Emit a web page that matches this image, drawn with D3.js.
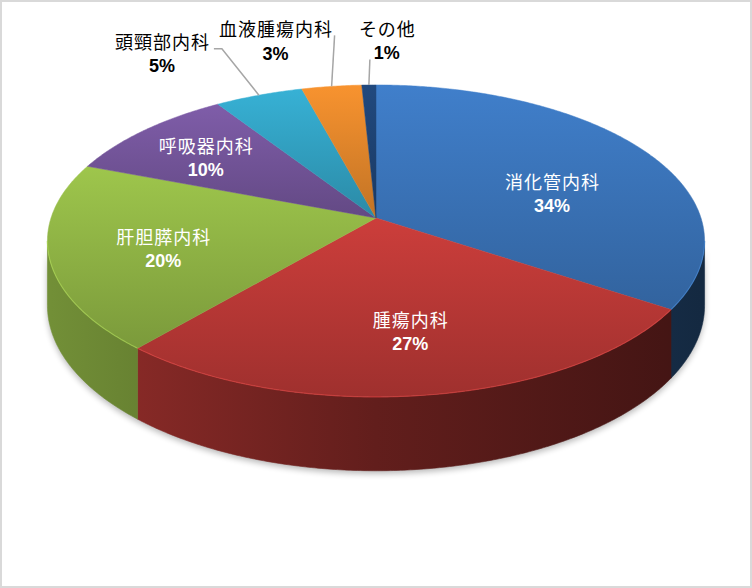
<!DOCTYPE html>
<html><head><meta charset="utf-8">
<script src="https://cdn.jsdelivr.net/npm/d3@7"></script>
<style>html,body{margin:0;padding:0;background:#fff}svg{display:block}</style>
</head><body>
<svg id="chart" width="752" height="588"></svg>
<script>
// ---- data ----
const categories = ["消化管内科","腫瘍内科","肝胆膵内科","呼吸器内科","頭頸部内科","血液腫瘍内科","その他"];
const values = [34.3, 27.0, 19.5, 10.0, 5.0, 3.4, 0.8];
const percentLabels = ["34%","27%","20%","10%","5%","3%","1%"];
const colors = ["#407fcb","#cc3e3b","#9ec64c","#7f5da9","#37b1d5","#f8932f","#21497e"];
const outsideLabel = [false,false,false,false,true,true,true];

// ---- layout ----
const W = 752, H = 588;
const cx = 376, cy = 218, A = 325, B = 152.6, K = 0.147, DEPTH = 63;
const svg = d3.select("#chart");

function proj(theta, r = 1, z = 0) {
  const u = Math.sin(theta) * r, v = -Math.cos(theta) * r;
  const w = 1 - K * v;
  return [cx + A * u / w, cy + B * v / w + z * DEPTH / (1 - K * (-Math.cos(theta)))];
}
function arcPts(a0, a1, z) {
  const n = Math.max(2, Math.ceil(Math.abs(a1 - a0) / (Math.PI / 360)));
  return d3.range(n + 1).map(i => proj(a0 + (a1 - a0) * i / n, 1, z));
}
const line = d3.line();

const pie = d3.pie().sort(null).value(d => d);
const arcs = pie(values);

const defs = svg.append("defs");
const scale = (c, f) => { const r = d3.rgb(c); return d3.rgb(r.r * f, r.g * f, r.b * f).formatHex(); };

arcs.forEach((a, i) => {
  const tg = defs.append("linearGradient").attr("id", "top" + i).attr("x1", 0).attr("y1", 0).attr("x2", 0).attr("y2", 1);
  tg.append("stop").attr("offset", 0).attr("stop-color", colors[i]);
  tg.append("stop").attr("offset", 1).attr("stop-color", scale(colors[i], 0.78));
  const wg = defs.append("linearGradient").attr("id", "wall" + i).attr("gradientUnits", "userSpaceOnUse")
    .attr("x1", cx - A).attr("y1", 0).attr("x2", cx + A).attr("y2", 0);
  wg.append("stop").attr("offset", 0).attr("stop-color", scale(colors[i], 0.72));
  wg.append("stop").attr("offset", 0.5).attr("stop-color", scale(colors[i], 0.48));
  wg.append("stop").attr("offset", 1).attr("stop-color", scale(colors[i], 0.32));
});
const blur = defs.append("filter").attr("id", "shadow").attr("x", "-10%").attr("y", "-10%").attr("width", "120%").attr("height", "130%");
blur.append("feGaussianBlur").attr("stdDeviation", 3);

// border
svg.append("rect").attr("x", 1).attr("y", 1).attr("width", W - 2).attr("height", H - 2)
  .attr("fill", "#fff").attr("stroke", "#d9d9d9").attr("stroke-width", 2);

// shadow under the pie
const ts = Math.acos(-K);
const shadowPts = arcPts(ts, 2 * Math.PI - ts, 1).map(p => [p[0], p[1] + 3])
  .concat(arcPts(2 * Math.PI - ts, ts, 0).map(p => [p[0], p[1] + 3]));
svg.append("path").attr("d", line(shadowPts) + "Z").attr("fill", "#000").attr("opacity", 0.28).attr("filter", "url(#shadow)");

// walls
const g = svg.append("g");
arcs.forEach((a, i) => {
  const a0 = Math.max(a.startAngle, ts), a1 = Math.min(a.endAngle, 2 * Math.PI - ts);
  if (a1 <= a0) return;
  const pts = arcPts(a0, a1, 0).concat(arcPts(a1, a0, 1));
  g.append("path").attr("d", line(pts) + "Z").attr("fill", `url(#wall${i})`)
    .attr("stroke", `url(#wall${i})`).attr("stroke-width", 0.6);
});
// top faces
arcs.forEach((a, i) => {
  const pts = [[cx, cy]].concat(arcPts(a.startAngle, a.endAngle, 0));
  g.append("path").attr("d", line(pts) + "Z").attr("fill", `url(#top${i})`)
    .attr("stroke", `url(#top${i})`).attr("stroke-width", 0.5).attr("stroke-linejoin", "round");
});
// rim highlight on the front edge
arcs.forEach((a, i) => {
  const a0 = Math.max(a.startAngle, ts), a1 = Math.min(a.endAngle, 2 * Math.PI - ts);
  if (a1 <= a0) return;
  g.append("path").attr("d", line(arcPts(a0, a1, 0))).attr("fill", "none")
    .attr("stroke", d3.rgb(colors[i]).brighter(0.5)).attr("stroke-width", 1.2).attr("opacity", 0.45);
});

// labels
const insideNudge = [[-2, 21], [2, 5], [-3, 6], [-15, -1]];
const outsideOffset = { 4: [-97, -41], 5: [-56, -45], 6: [18, -44] };
const leaderStart = { 4: [[52, -5.5], [60, -5.5]], 5: [[59, -6]], 6: [[-17, 18.5]] };
const GAP = 11.7;
arcs.forEach((a, i) => {
  const m = (a.startAngle + a.endAngle) / 2;
  let x, y, fill;
  if (!outsideLabel[i]) {
    const p = proj(m, 0.65);
    x = p[0] + insideNudge[i][0]; y = p[1] + insideNudge[i][1]; fill = "#fff";
  } else {
    const e = proj(m, 1);
    x = e[0] + outsideOffset[i][0]; y = e[1] + outsideOffset[i][1]; fill = "#000";
    const pts = leaderStart[i].map(o => [x + o[0], y + o[1]]).concat([e]);
    svg.append("path").attr("d", line(pts)).attr("fill", "none").attr("stroke", "#a6a6a6").attr("stroke-width", 1.5);
  }
  svg.append("text").attr("x", x + 0.5).attr("y", y - GAP + 6.8).attr("text-anchor", "middle")
    .attr("font-family", "'Noto Sans CJK JP', sans-serif").attr("font-size", 18)
    .attr("letter-spacing", 1).attr("fill", fill).text(categories[i]);
  svg.append("text").attr("x", x).attr("y", y + GAP + 6.45).attr("text-anchor", "middle")
    .attr("font-family", "'Liberation Sans', Arial, sans-serif").attr("font-weight", "bold").attr("font-size", 18)
    .attr("fill", fill).text(percentLabels[i]);
});
</script>
</body></html>
